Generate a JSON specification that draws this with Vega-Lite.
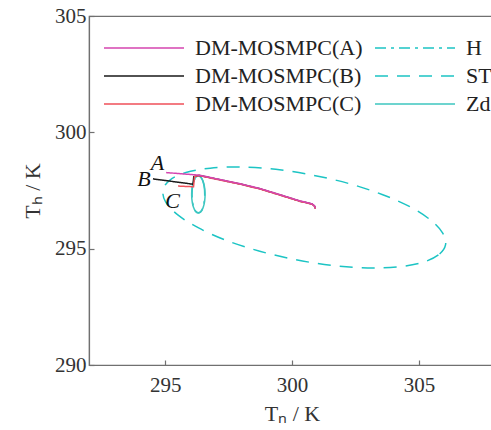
{
  "$schema": "https://vega.github.io/schema/vega-lite/v6.json",
  "autosize": "none",
  "width": 406,
  "height": 349,
  "padding": {"left": 89, "top": 16, "right": 0, "bottom": 65},
  "background": "white",
  "config": {
    "font": "Liberation Serif",
    "view": {"stroke": "#707070", "strokeWidth": 1.2},
    "axis": {"grid": false, "domainColor": "#707070", "tickColor": "#707070", "labelColor": "#333333", "titleColor": "#333333", "labelFont": "Liberation Serif", "titleFont": "Liberation Serif", "labelFontSize": 21, "titleFontSize": 22, "titleFontWeight": "normal", "tickSize": -5, "domainWidth": 1.2, "tickWidth": 1.2}
  },
  "datasets": {
    "curves": [
      {"s": "ST", "i": 0, "x": 306.05, "y": 295.16},
      {"s": "ST", "i": 1, "x": 305.77, "y": 294.73},
      {"s": "ST", "i": 2, "x": 305.14, "y": 294.41},
      {"s": "ST", "i": 3, "x": 304.19, "y": 294.22},
      {"s": "ST", "i": 4, "x": 302.98, "y": 294.17},
      {"s": "ST", "i": 5, "x": 301.61, "y": 294.28},
      {"s": "ST", "i": 6, "x": 300.16, "y": 294.52},
      {"s": "ST", "i": 7, "x": 298.73, "y": 294.89},
      {"s": "ST", "i": 8, "x": 297.42, "y": 295.35},
      {"s": "ST", "i": 9, "x": 296.32, "y": 295.89},
      {"s": "ST", "i": 10, "x": 295.50, "y": 296.45},
      {"s": "ST", "i": 11, "x": 295.02, "y": 297.01},
      {"s": "ST", "i": 12, "x": 294.92, "y": 297.52},
      {"s": "ST", "i": 13, "x": 295.19, "y": 297.95},
      {"s": "ST", "i": 14, "x": 295.82, "y": 298.27},
      {"s": "ST", "i": 15, "x": 296.78, "y": 298.46},
      {"s": "ST", "i": 16, "x": 297.98, "y": 298.51},
      {"s": "ST", "i": 17, "x": 299.36, "y": 298.41},
      {"s": "ST", "i": 18, "x": 300.81, "y": 298.16},
      {"s": "ST", "i": 19, "x": 302.24, "y": 297.80},
      {"s": "ST", "i": 20, "x": 303.55, "y": 297.33},
      {"s": "ST", "i": 21, "x": 304.65, "y": 296.80},
      {"s": "ST", "i": 22, "x": 305.46, "y": 296.23},
      {"s": "ST", "i": 23, "x": 305.94, "y": 295.67},
      {"s": "H", "i": 0, "x": 296.56, "y": 297.33},
      {"s": "H", "i": 1, "x": 296.53, "y": 297.73},
      {"s": "H", "i": 2, "x": 296.44, "y": 298.02},
      {"s": "H", "i": 3, "x": 296.31, "y": 298.12},
      {"s": "H", "i": 4, "x": 296.18, "y": 298.02},
      {"s": "H", "i": 5, "x": 296.09, "y": 297.73},
      {"s": "H", "i": 6, "x": 296.06, "y": 297.33},
      {"s": "H", "i": 7, "x": 296.09, "y": 296.93},
      {"s": "H", "i": 8, "x": 296.18, "y": 296.64},
      {"s": "H", "i": 9, "x": 296.31, "y": 296.54},
      {"s": "H", "i": 10, "x": 296.44, "y": 296.64},
      {"s": "H", "i": 11, "x": 296.53, "y": 296.93},
      {"s": "Zd", "i": 0, "x": 296.574, "y": 297.33},
      {"s": "Zd", "i": 1, "x": 296.539, "y": 297.73},
      {"s": "Zd", "i": 2, "x": 296.442, "y": 298.02},
      {"s": "Zd", "i": 3, "x": 296.31, "y": 298.13},
      {"s": "Zd", "i": 4, "x": 296.178, "y": 298.02},
      {"s": "Zd", "i": 5, "x": 296.081, "y": 297.73},
      {"s": "Zd", "i": 6, "x": 296.046, "y": 297.33},
      {"s": "Zd", "i": 7, "x": 296.081, "y": 296.93},
      {"s": "Zd", "i": 8, "x": 296.178, "y": 296.64},
      {"s": "Zd", "i": 9, "x": 296.31, "y": 296.53},
      {"s": "Zd", "i": 10, "x": 296.442, "y": 296.64},
      {"s": "Zd", "i": 11, "x": 296.539, "y": 296.93},
      {"s": "DM-MOSMPC(B)", "i": 0, "x": 294.52, "y": 298.00},
      {"s": "DM-MOSMPC(B)", "i": 1, "x": 296.10, "y": 297.77},
      {"s": "DM-MOSMPC(B)", "i": 2, "x": 296.13, "y": 298.10},
      {"s": "DM-MOSMPC(B)", "i": 3, "x": 296.34, "y": 298.15},
      {"s": "DM-MOSMPC(B)", "i": 4, "x": 297.17, "y": 297.96},
      {"s": "DM-MOSMPC(B)", "i": 5, "x": 297.96, "y": 297.78},
      {"s": "DM-MOSMPC(B)", "i": 6, "x": 298.75, "y": 297.57},
      {"s": "DM-MOSMPC(B)", "i": 7, "x": 299.53, "y": 297.31},
      {"s": "DM-MOSMPC(B)", "i": 8, "x": 300.32, "y": 297.04},
      {"s": "DM-MOSMPC(B)", "i": 9, "x": 300.64, "y": 296.96},
      {"s": "DM-MOSMPC(B)", "i": 10, "x": 300.80, "y": 296.91},
      {"s": "DM-MOSMPC(B)", "i": 11, "x": 300.89, "y": 296.83},
      {"s": "DM-MOSMPC(B)", "i": 12, "x": 300.92, "y": 296.73},
      {"s": "DM-MOSMPC(C)", "i": 0, "x": 295.51, "y": 297.69},
      {"s": "DM-MOSMPC(C)", "i": 1, "x": 296.12, "y": 297.66},
      {"s": "DM-MOSMPC(C)", "i": 2, "x": 296.16, "y": 298.10},
      {"s": "DM-MOSMPC(C)", "i": 3, "x": 296.34, "y": 298.14},
      {"s": "DM-MOSMPC(C)", "i": 4, "x": 297.17, "y": 297.95},
      {"s": "DM-MOSMPC(C)", "i": 5, "x": 297.96, "y": 297.77},
      {"s": "DM-MOSMPC(C)", "i": 6, "x": 298.75, "y": 297.56},
      {"s": "DM-MOSMPC(C)", "i": 7, "x": 299.53, "y": 297.30},
      {"s": "DM-MOSMPC(C)", "i": 8, "x": 300.32, "y": 297.03},
      {"s": "DM-MOSMPC(C)", "i": 9, "x": 300.64, "y": 296.95},
      {"s": "DM-MOSMPC(C)", "i": 10, "x": 300.80, "y": 296.90},
      {"s": "DM-MOSMPC(C)", "i": 11, "x": 300.89, "y": 296.82},
      {"s": "DM-MOSMPC(C)", "i": 12, "x": 300.92, "y": 296.72},
      {"s": "DM-MOSMPC(A)", "i": 0, "x": 295.04, "y": 298.27},
      {"s": "DM-MOSMPC(A)", "i": 1, "x": 296.34, "y": 298.16},
      {"s": "DM-MOSMPC(A)", "i": 2, "x": 297.17, "y": 297.97},
      {"s": "DM-MOSMPC(A)", "i": 3, "x": 297.96, "y": 297.79},
      {"s": "DM-MOSMPC(A)", "i": 4, "x": 298.75, "y": 297.58},
      {"s": "DM-MOSMPC(A)", "i": 5, "x": 299.53, "y": 297.32},
      {"s": "DM-MOSMPC(A)", "i": 6, "x": 300.32, "y": 297.05},
      {"s": "DM-MOSMPC(A)", "i": 7, "x": 300.64, "y": 296.97},
      {"s": "DM-MOSMPC(A)", "i": 8, "x": 300.80, "y": 296.92},
      {"s": "DM-MOSMPC(A)", "i": 9, "x": 300.89, "y": 296.84},
      {"s": "DM-MOSMPC(A)", "i": 10, "x": 300.92, "y": 296.74}
    ],
    "labels": [
      {"lab": "A", "x": 294.70, "y": 298.70},
      {"lab": "B", "x": 294.17, "y": 298.00},
      {"lab": "C", "x": 295.29, "y": 297.05}
    ]
  },
  "layer": [
    {
      "data": {"name": "curves"},
      "transform": [{"filter": "datum.s === 'ST'"}],
      "mark": {"type": "line", "interpolate": "cardinal-closed", "strokeWidth": 1.5},
      "encoding": {
        "x": {"field": "x", "type": "quantitative", "scale": {"domain": [292, 308], "nice": false, "zero": false}, "axis": {"values": [295, 300, 305], "title": "Tₙ / K", "labelPadding": 14, "titlePadding": 8}},
        "y": {"field": "y", "type": "quantitative", "scale": {"domain": [290, 305], "nice": false, "zero": false}, "axis": {"values": [290, 295, 300, 305], "title": "Tₕ / K", "labelPadding": 8, "titlePadding": 10}},
        "order": {"field": "i", "type": "quantitative"},
        "color": {"field": "s", "type": "nominal", "scale": {"domain": ["DM-MOSMPC(A)", "DM-MOSMPC(B)", "DM-MOSMPC(C)", "H", "ST", "Zd"], "range": ["#d545b0", "#1a1a1a", "#f0505a", "#1cc4c4", "#1cc4c4", "#3ec6c0"]},
          "legend": {"title": null, "orient": "none", "legendX": 14, "legendY": 21, "columns": 2, "symbolType": "M-1,0H7", "symbolSize": 400, "symbolStrokeWidth": 1.5, "labelFontSize": 22, "labelFont": "Liberation Serif", "labelColor": "#222222", "labelLimit": 400, "labelOffset": 70, "columnPadding": 9, "rowPadding": 6, "padding": 0}},
        "strokeDash": {"field": "s", "type": "nominal", "scale": {"domain": ["DM-MOSMPC(A)", "DM-MOSMPC(B)", "DM-MOSMPC(C)", "H", "ST", "Zd"], "range": [[1, 0], [1, 0], [1, 0], [11, 5, 3, 5], [13, 9], [1, 0]]}, "legend": null}
      }
    },
    {
      "data": {"name": "curves"},
      "transform": [{"filter": "datum.s === 'H' || datum.s === 'Zd'"}],
      "mark": {"type": "line", "interpolate": "cardinal-closed", "strokeWidth": 1.5},
      "encoding": {
        "x": {"field": "x", "type": "quantitative"},
        "y": {"field": "y", "type": "quantitative"},
        "order": {"field": "i", "type": "quantitative"},
        "color": {"field": "s", "type": "nominal"},
        "strokeDash": {"field": "s", "type": "nominal"}
      }
    },
    {
      "data": {"name": "curves"},
      "transform": [{"filter": "datum.s === 'DM-MOSMPC(B)'"}],
      "mark": {"type": "line", "strokeWidth": 1.5},
      "encoding": {
        "x": {"field": "x", "type": "quantitative"},
        "y": {"field": "y", "type": "quantitative"},
        "order": {"field": "i", "type": "quantitative"},
        "color": {"field": "s", "type": "nominal"},
        "strokeDash": {"field": "s", "type": "nominal"}
      }
    },
    {
      "data": {"name": "curves"},
      "transform": [{"filter": "datum.s === 'DM-MOSMPC(C)'"}],
      "mark": {"type": "line", "strokeWidth": 1.5},
      "encoding": {
        "x": {"field": "x", "type": "quantitative"},
        "y": {"field": "y", "type": "quantitative"},
        "order": {"field": "i", "type": "quantitative"},
        "color": {"field": "s", "type": "nominal"},
        "strokeDash": {"field": "s", "type": "nominal"}
      }
    },
    {
      "data": {"name": "curves"},
      "transform": [{"filter": "datum.s === 'DM-MOSMPC(A)'"}],
      "mark": {"type": "line", "strokeWidth": 1.5},
      "encoding": {
        "x": {"field": "x", "type": "quantitative"},
        "y": {"field": "y", "type": "quantitative"},
        "order": {"field": "i", "type": "quantitative"},
        "color": {"field": "s", "type": "nominal"},
        "strokeDash": {"field": "s", "type": "nominal"}
      }
    },
    {
      "data": {"name": "labels"},
      "mark": {"type": "text", "font": "Liberation Serif", "fontStyle": "italic", "fontSize": 22, "color": "#111111", "align": "center", "baseline": "middle"},
      "encoding": {
        "x": {"field": "x", "type": "quantitative"},
        "y": {"field": "y", "type": "quantitative"},
        "text": {"field": "lab"}
      }
    }
  ]
}
